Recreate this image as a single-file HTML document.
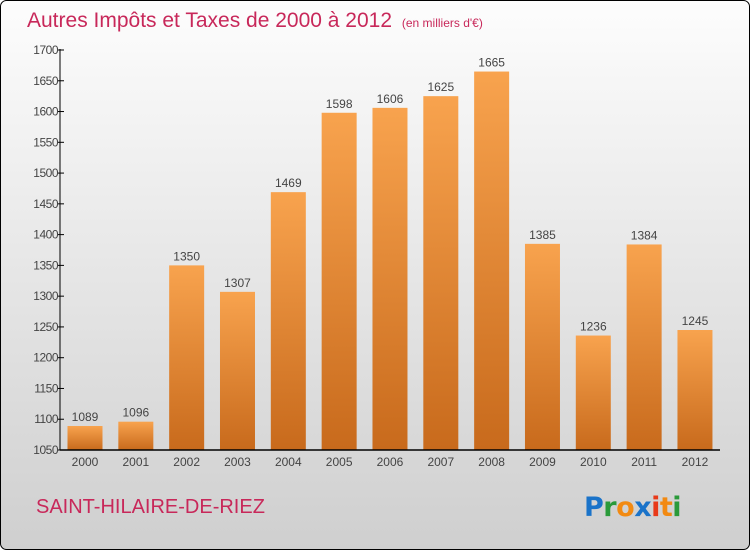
<!DOCTYPE html>
<html><head><meta charset="utf-8"><style>
body{margin:0;width:750px;height:550px;overflow:hidden;font-family:"Liberation Sans",sans-serif}
svg{display:block}
</style></head><body>
<svg id="chart" width="750" height="550" xmlns="http://www.w3.org/2000/svg">
<defs>
<linearGradient id="bg" x1="0" y1="0" x2="0" y2="1"><stop offset="0" stop-color="#fdfdfd"/><stop offset="1" stop-color="#cfcfcf"/></linearGradient>
<linearGradient id="bar" x1="0" y1="0" x2="0" y2="1"><stop offset="0" stop-color="#f8a34e"/><stop offset="1" stop-color="#c86a1c"/></linearGradient>
</defs>
<rect x="0.5" y="0.5" width="749" height="549" rx="6" fill="url(#bg)" stroke="#000"/>
<text x="27" y="27" font-size="21" fill="#c8285a" font-weight="300">Autres Impôts et Taxes de 2000 à 2012 <tspan font-size="12" dx="4">(en milliers d'€)</tspan></text>
<g id="bars"></g>
<g id="axes"></g>
<text x="36" y="513" font-size="20" fill="#c8285a">SAINT-HILAIRE-DE-RIEZ</text>
<g font-size="27" font-family="'DejaVu Sans',sans-serif" font-weight="bold">
<text x="584" y="516" letter-spacing="-0.5"><tspan fill="#1a73c9">P</tspan><tspan fill="#2a9a3a">r</tspan><tspan fill="#f28a12">o</tspan><tspan fill="#1a73c9">x</tspan><tspan fill="#e83a1a">i</tspan><tspan fill="#f28a12">t</tspan><tspan fill="#2a9a3a">i</tspan></text>
</g>
</svg>
<script>
const categories=["2000","2001","2002","2003","2004","2005","2006","2007","2008","2009","2010","2011","2012"];
const values=[1089,1096,1350,1307,1469,1598,1606,1625,1665,1385,1236,1384,1245];
const ticks=[1050,1100,1150,1200,1250,1300,1350,1400,1450,1500,1550,1600,1650,1700];
const NS="http://www.w3.org/2000/svg";
const y=v=>450-(v-1050)*400/650;
const x=i=>85+i*50.83;
function mk(t,a,p){const e=document.createElementNS(NS,t);for(const k in a)e.setAttribute(k,a[k]);p.appendChild(e);return e;}
const bars=document.getElementById('bars'),axes=document.getElementById('axes');
values.forEach((v,i)=>{
 const r=mk('rect',{x:x(i)-17.5,y:y(v),width:35,height:450-y(v),fill:'url(#bar)'},bars);
 
 
 const t=mk('text',{x:x(i),y:y(v)-5,'text-anchor':'middle','font-size':12,fill:'#444'},bars);
 t.textContent=v;
 
 
 const c=mk('text',{x:x(i),y:466,'text-anchor':'middle','font-size':12,fill:'#444'},axes);
 c.textContent=categories[i];
 
 
});
ticks.forEach(v=>{
 mk('line',{x1:58,x2:64,y1:y(v),y2:y(v),stroke:'#000'},axes);
 const t=mk('text',{x:58,y:y(v)+4,'text-anchor':'end','font-size':12,fill:'#444','letter-spacing':'-0.5'},axes);
 t.textContent=v;
 
 
});
const ya=mk('line',{x1:60,x2:60,y1:49,y2:450,stroke:'#000'},axes);


const xa=mk('line',{x1:60,x2:720,y1:450,y2:450,stroke:'#000','stroke-width':1.5},axes);


</script>
</body></html>
